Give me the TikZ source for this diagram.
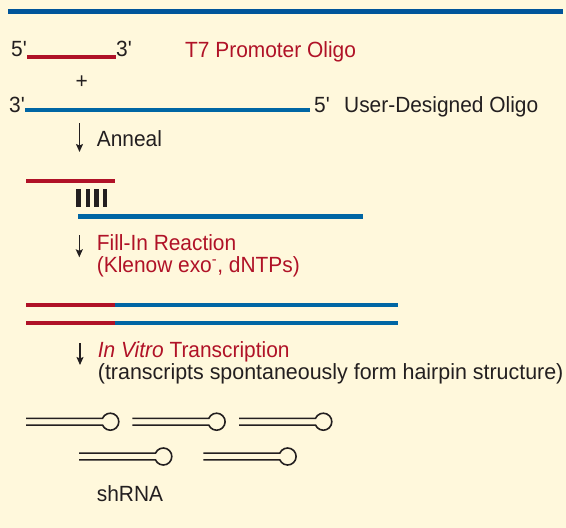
\documentclass[tikz,border=0pt]{standalone}
\usepackage{fontspec}
\setmainfont{Liberation Sans}[FakeStretch=0.95, Ligatures=TeXOff]
\usetikzlibrary{arrows.meta}
\usetikzlibrary{positioning}
\definecolor{cream}{RGB}{255,248,220}
\definecolor{ink}{RGB}{35,31,32}
\definecolor{oligored}{RGB}{176,18,39}
\definecolor{oligoblue}{RGB}{0,102,164}
\definecolor{rulerblue}{RGB}{0,85,154}
\tikzset{
  lbl/.style={anchor=base west, inner sep=0pt, text=ink, font=\fontsize{22}{22}\selectfont},
  redlbl/.style={lbl, text=oligored},
  redstrand/.style={draw=oligored, line width=4.5pt},
  bluestrand/.style={draw=oligoblue, line width=4.5pt},
  steparrow/.style={draw=ink, line width=1.4pt, -{Stealth[length=8pt, width=7pt, inset=1.5pt]}},
  hairpin/.pic={
    \draw[ink, line width=1.6pt] (0,-3.35) -- (76.5,-3.35)
      arc[start angle=-156.8, end angle=156.8, radius=8.5] -- (0,3.35);
  }
}
\begin{document}
\begin{tikzpicture}[x=1pt, y=-1pt]
  \fill[cream] (0,0) rectangle (566,528);
  \useasboundingbox (0,0) rectangle (566,528);

  \draw[draw=rulerblue, line width=4.5pt] (8,11.5) -- (563,11.5);

  % the two oligos
  \node[lbl] (5a) at (11,56.5) {5'};
  \node[lbl] (3a) at (116,56.5) {3'};
  \node[redlbl] (t7) at (185,57) {T7 Promoter Oligo};
  \draw[redstrand] ([yshift=-0.5pt]5a.base east) -- ([yshift=-0.5pt]3a.base west);

  \node[lbl] (plus) at (75.5,88.3) {+};

  \node[lbl] (3b) at (9,112.5) {3'};
  \node[lbl] (5b) at (314,112.5) {5'};
  \node[lbl] (user) at (344,112.5) {User-Designed Oligo};
  \draw[bluestrand] ([yshift=2.5pt]3b.base east) -- ([xshift=-4pt, yshift=2.5pt]5b.base west);

  % anneal
  \coordinate (a1) at (79.5,123);
  \coordinate (a1end) at (79.5,152);
  \draw[steparrow] (a1) -- (a1end);
  \node[lbl] (anneal) at (96.7,146) {Anneal};

  \draw[redstrand] (26,181) -- (115,181);
  \foreach \x in {78.5, 87.8, 96.7, 105}
    \draw[ink, line width=4.5pt] (\x,189) -- (\x,206.7);
  \draw[bluestrand] (78.3,216.7) -- (362.7,216.7);

  % fill-in
  \coordinate (a2) at (79.3,235);
  \coordinate (a2end) at (79.3,257.3);
  \draw[steparrow] (a2) -- (a2end);
  \node[redlbl] (fill) at (96.7,250.7) {Fill-In Reaction};
  \node[redlbl] (klenow) at ([yshift=-21.3pt]fill.base west) {(Klenow exo\textsuperscript{-}, dNTPs)};

  \foreach \y in {305, 323} {
    \draw[redstrand] (26,\y) -- (115,\y);
    \draw[bluestrand] (115,\y) -- (398,\y);
  }

  % transcription
  \coordinate (a3) at (80,343);
  \coordinate (a3end) at (80,365);
  \draw[steparrow] (a3) -- (a3end);
  \node[redlbl] (ivt) at (97.7,357.3) {\textit{In Vitro} Transcription};
  \node[lbl] (note) at ([yshift=-21.7pt]ivt.base west) {\scalebox{1.025}[1]{(transcripts spontaneously form hairpin structure)}};

  % shRNA hairpins
  \foreach \x/\y in {26/421.7, 132.3/421.7, 239/421.7, 79/456.5, 203.3/456.5}
    \pic at (\x,\y) {hairpin};
  \node[lbl] (shrna) at (96.7,501.5) {shRNA};
\end{tikzpicture}
\end{document}
